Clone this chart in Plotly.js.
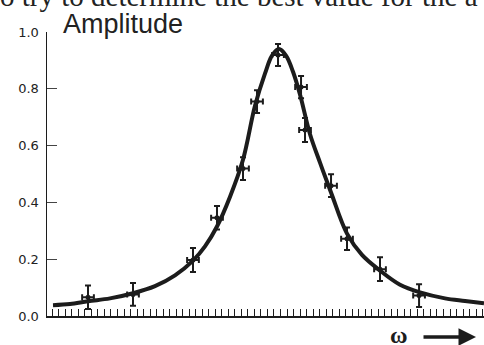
<!DOCTYPE html>
<html>
<head>
<meta charset="utf-8">
<script src="https://cdn.plot.ly/plotly-3.0.1.min.js"></script>
<style>html,body{margin:0;padding:0;background:#fff;}#chart{width:484px;height:345px;}</style>
</head>
<body>
<div id="chart"></div>
<script>
// measured points (omega in arbitrary units, amplitude)
const pointOmega = [6.29, 13.19, 22.39, 26.07, 30.06, 32.21, 35.43, 38.96, 39.57, 43.56, 46.01, 51.07, 57.06];
const pointAmp   = [0.066, 0.076, 0.197, 0.346, 0.519, 0.755, 0.919, 0.806, 0.655, 0.459, 0.272, 0.165, 0.072];
const ampErr     = [0.041, 0.040, 0.042, 0.041, 0.040, 0.040, 0.039, 0.039, 0.042, 0.040, 0.040, 0.042, 0.040];
const omegaErr   = [0.9, 0.9, 0.9, 0.9, 0.9, 0.9, 0.9, 0.9, 0.9, 0.9, 0.9, 0.9, 0.9];

// fitted resonance curve
const curveOmega = [0.92, 3.53, 6.29, 9.66, 13.19, 16.56, 19.63, 22.39, 24.23, 26.07, 28.07, 30.06, 31.90, 33.44, 34.51, 35.58, 36.66, 37.73, 38.80, 40.34, 41.87, 43.56, 46.01, 48.31, 51.07, 54.14, 57.21, 61.04, 64.11, 67.02];
const curveAmp   = [0.038, 0.042, 0.052, 0.062, 0.080, 0.105, 0.143, 0.195, 0.245, 0.315, 0.420, 0.550, 0.740, 0.854, 0.917, 0.940, 0.917, 0.860, 0.780, 0.640, 0.540, 0.435, 0.290, 0.215, 0.160, 0.110, 0.083, 0.062, 0.053, 0.045];

const yTicks = [0, 0.2, 0.4, 0.6, 0.8, 1.0];
const yTickText = ['0.0', '0.2', '0.4', '0.6', '0.8', '1.0'];

const ink = '#1c1c1c';

const traces = [
  {
    x: curveOmega, y: curveAmp, type: 'scatter', mode: 'lines',
    line: {color: ink, width: 4, shape: 'spline', smoothing: 1},
    hoverinfo: 'skip'
  },
  {
    x: pointOmega, y: pointAmp, type: 'scatter', mode: 'markers',
    marker: {color: ink, size: 5},
    error_y: {type: 'data', array: ampErr, visible: true, color: ink, thickness: 2, width: 3},
    error_x: {type: 'data', array: omegaErr, visible: true, color: ink, thickness: 2, width: 3}
  }
];

const layout = {
  width: 484, height: 345,
  margin: {l: 47, r: 0, t: 32, b: 29, pad: 0},
  paper_bgcolor: '#fff', plot_bgcolor: '#fff',
  showlegend: false,
  xaxis: {
    range: [0, 67.02], showgrid: false, zeroline: false,
    showline: true, linecolor: ink, linewidth: 1.5,
    ticks: 'inside', ticklen: 7, tickwidth: 1, tickcolor: ink,
    tick0: 0.81, dtick: 1, showticklabels: false
  },
  yaxis: {
    range: [0, 1.0], showgrid: false, zeroline: false,
    showline: true, linecolor: ink, linewidth: 1.5,
    ticks: 'inside', ticklen: 10, tickwidth: 1.2, tickcolor: '#444',
    tickmode: 'array', tickvals: yTicks, ticktext: yTickText,
    tickfont: {family: 'DejaVu Sans', size: 13, color: '#222'},
    ticklabelstandoff: 4
  },
  annotations: [
    {
      text: 'Amplitude', xref: 'paper', yref: 'paper', x: 0, y: 1,
      xanchor: 'left', yanchor: 'bottom', xshift: 14, yshift: -9, showarrow: false,
      font: {family: 'Liberation Sans', size: 27, color: '#222'}
    },
    {
      text: 'o try to determine the best value for the a', xref: 'paper', yref: 'paper',
      x: 0, y: 1, xanchor: 'left', yanchor: 'bottom', xshift: -49, yshift: 18, showarrow: false,
      font: {family: 'Liberation Serif', size: 29, color: '#222'}
    },
    {
      text: '<b>ω</b>', xref: 'paper', yref: 'paper', x: (399 - 47) / 437, y: -0.074,
      xanchor: 'center', yanchor: 'middle', showarrow: false, yshift: 2,
      font: {family: 'Liberation Serif', size: 24, color: ink}
    },
    {
      text: '', xref: 'paper', yref: 'paper', x: (476 - 47) / 437, y: -0.074,
      ax: -54, ay: 0, showarrow: true, arrowhead: 2, arrowsize: 1, arrowwidth: 3.5, arrowcolor: ink
    }
  ]
};

Plotly.newPlot('chart', traces, layout, {staticPlot: true, displayModeBar: false});
</script>
</body>
</html>
